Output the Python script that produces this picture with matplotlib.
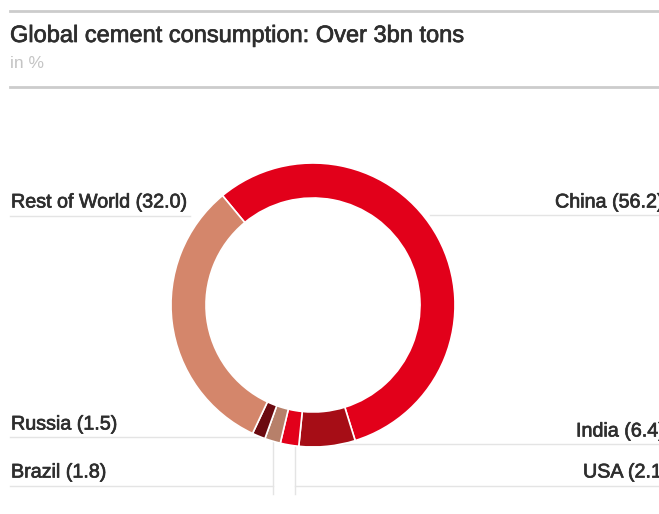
import matplotlib
matplotlib.use("Agg")
import matplotlib.pyplot as plt
import matplotlib.patheffects as pe

## Data (shares in %)
countries = ["China", "India", "USA", "Brazil", "Russia", "Rest of World"]
shares = [56.2, 6.4, 2.1, 1.8, 1.5, 32.0]
colors = ["#e2001a", "#a60d16", "#e2001a", "#b7806a", "#6b0a10", "#d4866b"]

title = "Global cement consumption: Over 3bn tons"
subtitle = "in %"

plt.rcParams['font.family'] = ['Liberation Sans', 'DejaVu Sans']

W, H = 659, 514
fig = plt.figure(figsize=(W / 100, H / 100), dpi=100)
ax = fig.add_axes([0, 0, 1, 1])

def py(y):
    ## pixel row (top down) -> data y
    return H - y

## a touch heavier text, like the reference
heavy = [pe.withStroke(linewidth=0.5, foreground="#2e2e2e")]

## header lines and title
ax.plot([10, W], [py(11), py(11)], color="#cccccc", lw=2, zorder=1)
ax.plot([10, W], [py(87), py(87)], color="#cccccc", lw=2, zorder=1)
ax.text(10, py(36), title, fontsize=17, color="#2e2e2e", va='center', ha='left',
        path_effects=heavy)
ax.text(10, py(64), subtitle, fontsize=12.5, color="#c4c4c4", va='center', ha='left')

## label guide lines
lc = "#e4e4e4"
ax.plot([10, 190], [py(216), py(216)], color=lc, lw=1, zorder=1)
ax.plot([430, W], [py(215), py(215)], color=lc, lw=1, zorder=1)
ax.plot([10, 273], [py(437), py(437)], color=lc, lw=1, zorder=1)
ax.plot([295, W], [py(444), py(444)], color=lc, lw=1, zorder=1)
ax.plot([10, 273], [py(486), py(486)], color=lc, lw=1, zorder=1)
ax.plot([295, W], [py(486), py(486)], color=lc, lw=1, zorder=1)
ax.plot([273, 273], [py(437), py(494)], color=lc, lw=1, zorder=1)
ax.plot([295, 295], [py(444), py(494)], color=lc, lw=1, zorder=1)

## donut
ax.pie(shares, colors=colors, center=(313, py(305)), radius=142,
       startangle=129.6, counterclock=False, frame=True,
       wedgeprops=dict(width=35, edgecolor="white", linewidth=1.2))
ax.set_xlim(0, W)
ax.set_ylim(0, H)
ax.set_aspect('auto')
ax.axis('off')

## labels
labels = [f"{c} ({v:.1f})" for c, v in zip(countries, shares)]
tc = "#2e2e2e"
fs = 14.2
ax.text(11, py(202), labels[5], fontsize=fs, color=tc, va='center', ha='left', path_effects=heavy)
ax.text(11, py(424), labels[4], fontsize=fs, color=tc, va='center', ha='left', path_effects=heavy)
ax.text(11, py(472), labels[3], fontsize=fs, color=tc, va='center', ha='left', path_effects=heavy)
ax.text(555, py(202), labels[0], fontsize=fs, color=tc, va='center', ha='left', path_effects=heavy)
ax.text(576, py(431), labels[1], fontsize=fs, color=tc, va='center', ha='left', path_effects=heavy)
ax.text(583, py(472), labels[2], fontsize=fs, color=tc, va='center', ha='left', path_effects=heavy)

fig.savefig("out.png", dpi=100)
